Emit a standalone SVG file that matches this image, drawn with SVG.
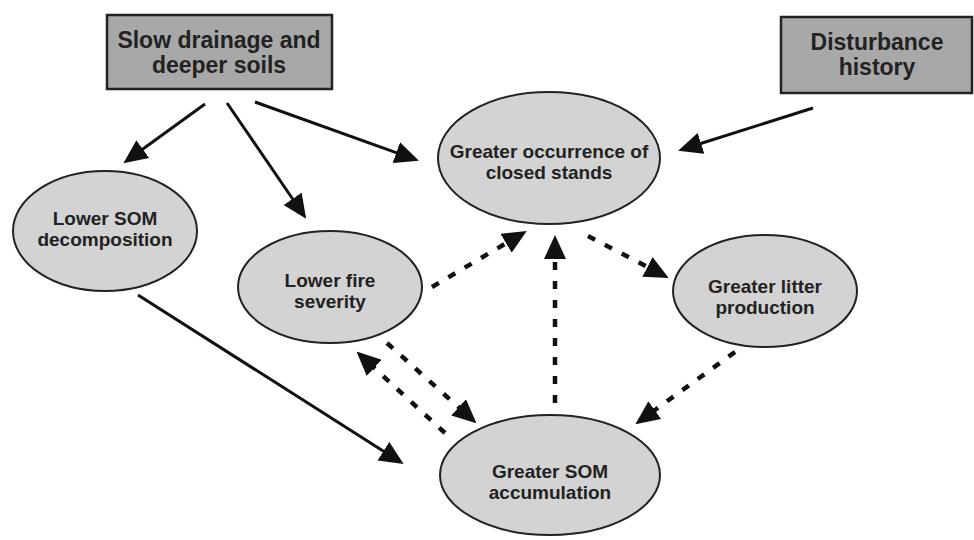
<svg xmlns="http://www.w3.org/2000/svg" width="974" height="540" viewBox="0 0 974 540">
<style>
.box{fill:#a8a8a8;stroke:#222;stroke-width:2.5}
.ell{fill:#d3d3d3;stroke:#222;stroke-width:2}
.bt{font-family:"Liberation Sans",Arial,sans-serif;font-weight:bold;font-size:23px;fill:#222;text-anchor:middle}
.et{font-family:"Liberation Sans",Arial,sans-serif;font-weight:bold;font-size:19px;fill:#222;text-anchor:middle}
.solid{stroke:#111;stroke-width:3;fill:none;marker-end:url(#ah)}
.dash{stroke:#111;stroke-width:4.5;fill:none;stroke-dasharray:8 11;marker-end:url(#ah)}
</style>
<defs>
<marker id="ah" markerUnits="userSpaceOnUse" viewBox="0 0 24 22" refX="2" refY="11" markerWidth="24" markerHeight="22" orient="auto">
<path d="M0,0 L24,11 L0,22 z" fill="#111"/>
</marker>
</defs>
<rect width="974" height="540" fill="#fff"/>
<g id="drainage">
<rect class="box" x="107" y="15" width="225" height="74"/>
<text class="bt" x="219" y="48">Slow drainage and</text>
<text class="bt" x="219" y="73">deeper soils</text>
</g>
<g id="disturbance">
<rect class="box" x="781" y="17" width="191" height="76"/>
<text class="bt" x="877" y="50">Disturbance</text>
<text class="bt" x="877" y="75">history</text>
</g>
<g id="closed">
<ellipse class="ell" cx="549" cy="158" rx="111" ry="66"/>
<text class="et" x="549" y="158">Greater occurrence of</text>
<text class="et" x="549" y="179">closed stands</text>
</g>
<g id="decomp">
<ellipse class="ell" cx="105" cy="231" rx="92" ry="60"/>
<text class="et" x="105" y="225">Lower SOM</text>
<text class="et" x="105" y="246">decomposition</text>
</g>
<g id="fire">
<ellipse class="ell" cx="330" cy="287" rx="92" ry="56"/>
<text class="et" x="330" y="287">Lower fire</text>
<text class="et" x="330" y="308">severity</text>
</g>
<g id="litter">
<ellipse class="ell" cx="765" cy="291" rx="92" ry="56"/>
<text class="et" x="765" y="293">Greater litter</text>
<text class="et" x="765" y="314">production</text>
</g>
<g id="som">
<ellipse class="ell" cx="550" cy="475" rx="110" ry="60"/>
<text class="et" x="550" y="478">Greater SOM</text>
<text class="et" x="550" y="499">accumulation</text>
</g>
<g id="connectors">
<line class="solid" x1="205" y1="104" x2="141.2" y2="150.3"/>
<line class="solid" x1="227" y1="103" x2="293.7" y2="200.5"/>
<line class="solid" x1="255" y1="102" x2="398.2" y2="153.3"/>
<line class="solid" x1="813" y1="108" x2="699.1" y2="144"/>
<line class="solid" x1="138" y1="295" x2="385.1" y2="452.3"/>
<line class="dash" x1="432" y1="287" x2="507.8" y2="242.2"/>
<line class="dash" x1="588" y1="236" x2="649.2" y2="267.8"/>
<line class="dash" x1="555" y1="403" x2="555" y2="257"/>
<line class="dash" x1="735" y1="352" x2="653.2" y2="411.3"/>
<line class="dash" x1="387" y1="343" x2="460.1" y2="408.6"/>
<line class="dash" x1="445" y1="433" x2="372.7" y2="366.5"/>
</g>
</svg>
